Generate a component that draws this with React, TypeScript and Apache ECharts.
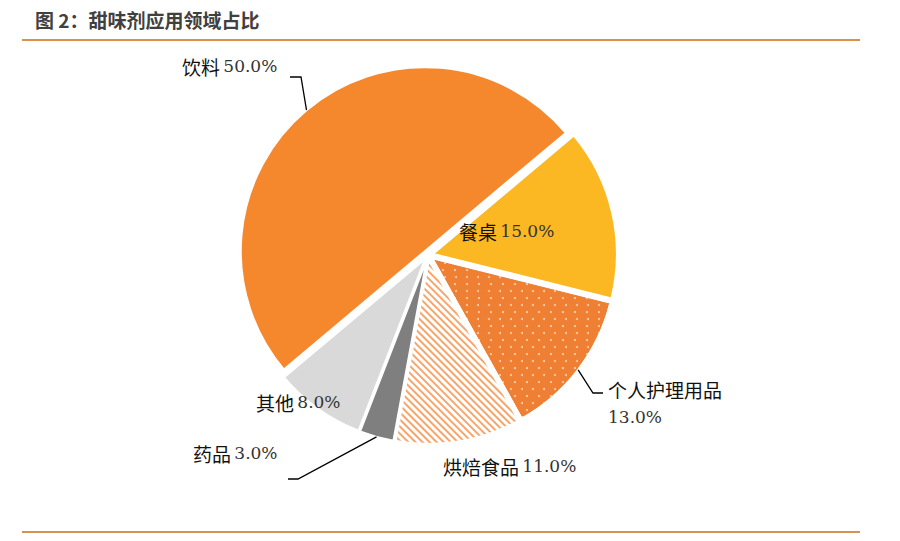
import React, { useEffect, useRef } from "react";
import * as echarts from "echarts";

const categories = ["餐桌", "个人护理用品", "烘焙食品", "药品", "其他", "饮料"];
const values = [15, 13, 11, 3, 8, 50];
const colors = ["#FBB822", "#EF7F33", "#FFFFFF", "#7F7F7F", "#D9D9D9", "#F5872D"];
const titleText = "图 2：甜味剂应用领域占比";

// label placement (left x, middle y) and label-line elbows
const labelPos: number[][] = [
  [459, 231],
  [608, 403],
  [443, 466],
  [193, 453],
  [256, 402],
  [182, 66],
];
const linePts: Record<number, number[][]> = {
  1: [[593, 393], [603, 393]],
  3: [[298, 479], [288, 479]],
  5: [[301, 77], [290, 77]],
};
const withLine = [false, true, false, true, false, true];

const CENTER = [428, 255];
const RADIUS = 184;
const START = 40;
const OFFSET = 5;

export default function App() {
  const ref = useRef<HTMLDivElement>(null);
  useEffect(() => {
    if (!ref.current) return;
    const chart = echarts.init(ref.current, null, { renderer: "svg" });
    const sliceData = categories.map((name, i) => {
      const item: any = {
        name,
        value: values[i],
        selected: true,
        itemStyle: { color: colors[i] },
      };
      if (i === 1) {
        item.itemStyle.decal = {
          symbol: "circle",
          symbolSize: 1,
          dashArrayX: [[2, 9], [0, 5.5, 2, 3.5]],
          dashArrayY: [2, 5],
          color: "rgba(255,228,205,0.85)",
        };
      }
      if (i === 2) {
        item.itemStyle.decal = {
          symbol: "rect",
          symbolSize: 1,
          dashArrayX: [1, 0],
          dashArrayY: [2, 2.2],
          rotation: Math.PI / 4,
          color: "#F6A56B",
        };
      }
      return item;
    });
    const labelData = categories.map((name, i) => ({
      name,
      value: values[i],
      labelLine: { show: withLine[i] },
      label: {
        formatter:
          i === 1
            ? "{n|{b}}\n{v|" + values[i].toFixed(1) + "%}"
            : "{n|{b}} {v|" + values[i].toFixed(1) + "%}",
      },
    }));
    chart.setOption({
      animation: false,
      graphic: [
        {
          type: "text",
          left: 35,
          top: 10,
          style: {
            text: titleText,
            fontSize: 19,
            fontWeight: "bold",
            fontFamily: "Noto Sans CJK SC",
            fill: "#404040",
          },
        },
        {
          type: "line",
          shape: { x1: 22, y1: 40, x2: 860, y2: 40 },
          style: { stroke: "#D9914F", lineWidth: 2 },
        },
        {
          type: "line",
          shape: { x1: 22, y1: 532, x2: 860, y2: 532 },
          style: { stroke: "#D9914F", lineWidth: 2 },
        },
      ],
      series: [
        {
          type: "pie",
          center: CENTER,
          radius: RADIUS,
          startAngle: START,
          clockwise: true,
          selectedMode: "multiple",
          selectedOffset: OFFSET,
          emphasis: { disabled: true },
          itemStyle: { borderColor: "#FFFFFF", borderWidth: 2 },
          label: { show: false },
          labelLine: { show: false },
          data: sliceData,
        },
        {
          type: "pie",
          silent: true,
          z: 3,
          center: CENTER,
          radius: RADIUS + OFFSET,
          startAngle: START,
          clockwise: true,
          avoidLabelOverlap: false,
          emphasis: { disabled: true },
          itemStyle: { color: "rgba(0,0,0,0)", borderWidth: 0 },
          label: {
            show: true,
            position: "outside",
            rich: {
              n: {
                fontFamily: "Noto Sans CJK SC",
                fontSize: 19,
                color: "#111111",
                lineHeight: 28,
              },
              v: {
                fontFamily: "DejaVu Serif",
                fontSize: 17,
                color: "#333333",
                lineHeight: 28,
              },
            },
          },
          labelLine: {
            lineStyle: { color: "#000000", width: 1.3 },
          },
          labelLayout: (params: any) => {
            const i = params.dataIndex;
            const res: any = {
              x: labelPos[i][0],
              y: labelPos[i][1],
              align: "left",
              verticalAlign: "middle",
            };
            if (linePts[i] && params.labelLinePoints) {
              res.labelLinePoints = [params.labelLinePoints[0], ...linePts[i]];
            }
            return res;
          },
          data: labelData,
        },
      ],
    });
    return () => chart.dispose();
  }, []);
  return (
    <div
      ref={ref}
      style={{ position: "fixed", left: 0, top: 0, width: 900, height: 541, background: "#fff" }}
    />
  );
}
